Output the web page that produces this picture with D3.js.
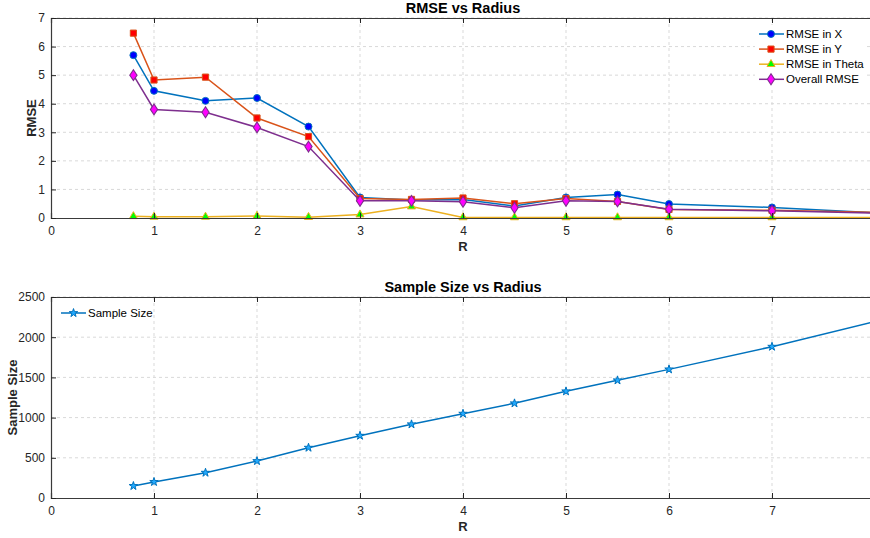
<!DOCTYPE html>
<html lang="en">
<head>
<meta charset="utf-8">
<title>RMSE vs Radius</title>
<script src="https://cdn.jsdelivr.net/npm/d3@7"></script>
<style>
  body { margin:0; background:#fff; }
  svg { font-family: "Liberation Sans", Arial, sans-serif; }
  .grid line { stroke:#d9d9d9; stroke-dasharray:3,3; stroke-width:1; }
  .title { font-weight:bold; font-size:14.5px; fill:#000; text-anchor:middle; }
  .lbl { font-weight:bold; font-size:13px; fill:#262626; text-anchor:middle; }
  .leg { font-size:11.5px; fill:#000; }
</style>
</head>
<body>
<script>
// data
var radius = [0.8, 1, 1.5, 2, 2.5, 3, 3.5, 4, 4.5, 5, 5.5, 6, 7, 8];
var rmseX = [5.7, 4.45, 4.1, 4.2, 3.2, 0.72, 0.63, 0.65, 0.42, 0.72, 0.82, 0.49, 0.37, 0.18];
var rmseY = [6.47, 4.83, 4.93, 3.5, 2.85, 0.68, 0.65, 0.7, 0.5, 0.68, 0.58, 0.3, 0.27, 0.2];
var rmseTheta = [0.06, 0.04, 0.04, 0.07, 0.03, 0.12, 0.4, 0.02, 0.02, 0.02, 0.02, 0.02, 0.02, 0.02];
var rmseAll = [5.0, 3.8, 3.7, 3.17, 2.5, 0.6, 0.6, 0.57, 0.36, 0.6, 0.58, 0.31, 0.25, 0.17];
var sampleSize = [150, 200, 315, 460, 626, 775, 917, 1049, 1178, 1327, 1464, 1600, 1882, 2195];
var xTicks = [0, 1, 2, 3, 4, 5, 6, 7];
var rmseTicks = [0, 1, 2, 3, 4, 5, 6, 7];
var sizeTicks = [0, 500, 1000, 1500, 2000, 2500];

var w = 870, h = 538;
var left = 51, right = 875;

var svg = d3.select("body").append("svg")
  .attr("width", w).attr("height", h);

var x = d3.scaleLinear().domain([0, 8]).range([left, right]);

function panel(top, bottom, yDomain, yTicks, title, ylab, ylabX) {
  var y = d3.scaleLinear().domain(yDomain).range([bottom, top]);
  var g = svg.append("g");
  g.append("rect").attr("x", left).attr("y", top)
    .attr("width", right - left).attr("height", bottom - top).attr("fill", "#fff");
  // grid
  var gr = g.append("g").attr("class", "grid");
  gr.selectAll(".gx").data(xTicks.slice(1)).enter().append("line")
    .attr("x1", d => x(d)).attr("x2", d => x(d)).attr("y1", top).attr("y2", bottom);
  gr.selectAll(".gy").data(yTicks.slice(1)).enter().append("line")
    .attr("x1", left).attr("x2", right).attr("y1", d => y(d)).attr("y2", d => y(d));
  // title + labels
  g.append("text").attr("class", "title").attr("x", (left + right) / 2).attr("y", top - 5).text(title);
  g.append("text").attr("class", "lbl").attr("x", x(4)).attr("y", bottom + 33).text("R");
  g.append("text").attr("class", "lbl")
    .attr("transform", "translate(" + ylabX + "," + ((top + bottom) / 2) + ") rotate(-90)").text(ylab);
  return {g: g, y: y, top: top, bottom: bottom, yTicks: yTicks};
}

function axes(p) {
  var g = p.g;
  var ax = g.append("g").attr("transform", "translate(0," + p.bottom + ")")
    .call(d3.axisBottom(x).tickValues(xTicks).tickSize(-5).tickPadding(8).tickFormat(d3.format("d")));
  var at = g.append("g").attr("transform", "translate(0," + p.top + ")")
    .call(d3.axisTop(x).tickValues(xTicks).tickSize(-5).tickFormat(""));
  var ay = g.append("g").attr("transform", "translate(" + left + ",0)")
    .call(d3.axisLeft(p.y).tickValues(p.yTicks).tickSize(-5).tickPadding(6).tickFormat(d3.format("d")));
  var ar = g.append("g").attr("transform", "translate(" + right + ",0)")
    .call(d3.axisRight(p.y).tickValues(p.yTicks).tickSize(-5).tickFormat(""));
  [ax, at, ay, ar].forEach(function(a) {
    a.select(".domain").attr("stroke", "#3a3a3a").attr("stroke-width", 1.2);
    a.selectAll(".tick line").attr("stroke", "#262626");
    a.selectAll("text").attr("font-family", "Liberation Sans, Arial, sans-serif")
      .attr("font-size", 12).attr("fill", "#262626");
  });
}

function marker(g, type, cx, cy, size, fill, stroke) {
  var sym = {circle: d3.symbolCircle, square: d3.symbolSquare, triangle: d3.symbolTriangle,
             diamond: d3.symbolDiamond, star: d3.symbolStar}[type];
  return g.append("path").attr("d", d3.symbol().type(sym).size(size)())
    .attr("transform", "translate(" + cx + "," + cy + ")" + (type === "diamond" ? " scale(1.15,1)" : ""))
    .attr("fill", fill).attr("stroke", stroke).attr("stroke-width", 1);
}

// ---------- top panel
var p1 = panel(18, 218, [0, 7], rmseTicks, "RMSE vs Radius", "RMSE", 36);

var series = [
  {name: "RMSE in X", vals: rmseX, color: "#0072BD", type: "circle", fill: "#0000ff", size: 38},
  {name: "RMSE in Y", vals: rmseY, color: "#D95319", type: "square", fill: "#ff0000", size: 38},
  {name: "RMSE in Theta", vals: rmseTheta, color: "#EDB120", type: "triangle", fill: "#00ff00", size: 28},
  {name: "Overall RMSE", vals: rmseAll, color: "#7E2F8E", type: "diamond", fill: "#ff00ff", size: 34}
];

var line1 = d3.line().x((d, i) => x(radius[i])).y(d => p1.y(d));
series.forEach(function(s) {
  var sg = p1.g.append("g");
  sg.append("path").attr("d", line1(s.vals)).attr("fill", "none")
    .attr("stroke", s.color).attr("stroke-width", 1.5);
  s.vals.forEach(function(v, i) {
    marker(sg, s.type, x(radius[i]), p1.y(v), s.size, s.fill, s.color);
  });
});
axes(p1);

// legend top
var lg = svg.append("g");
lg.append("rect").attr("x", 755).attr("y", 25).attr("width", 112).attr("height", 63).attr("fill", "#fff");
series.forEach(function(s, i) {
  var ly = 34 + i * 15.1;
  lg.append("line").attr("x1", 759).attr("x2", 784).attr("y1", ly).attr("y2", ly)
    .attr("stroke", s.color).attr("stroke-width", 1.5);
  marker(lg, s.type, 771, ly, s.size, s.fill, s.color);
  lg.append("text").attr("class", "leg").attr("x", 786).attr("y", ly + 4).text(s.name);
});

// ---------- bottom panel
var p2 = panel(297, 498, [0, 2500], sizeTicks, "Sample Size vs Radius", "Sample Size", 17);
var line2 = d3.line().x((d, i) => x(radius[i])).y(d => p2.y(d));
var bg = p2.g.append("g");
bg.append("path").attr("d", line2(sampleSize)).attr("fill", "none")
  .attr("stroke", "#0072BD").attr("stroke-width", 1.5);
sampleSize.forEach(function(v, i) {
  marker(bg, "star", x(radius[i]), p2.y(v), 22, "#22aaff", "#0072BD");
});
axes(p2);

var lg2 = svg.append("g");
lg2.append("line").attr("x1", 61).attr("x2", 86).attr("y1", 313).attr("y2", 313)
  .attr("stroke", "#0072BD").attr("stroke-width", 1.5);
marker(lg2, "star", 73.5, 313, 22, "#22aaff", "#0072BD");
lg2.append("text").attr("class", "leg").attr("x", 88).attr("y", 317).text("Sample Size");
</script>
</body>
</html>
